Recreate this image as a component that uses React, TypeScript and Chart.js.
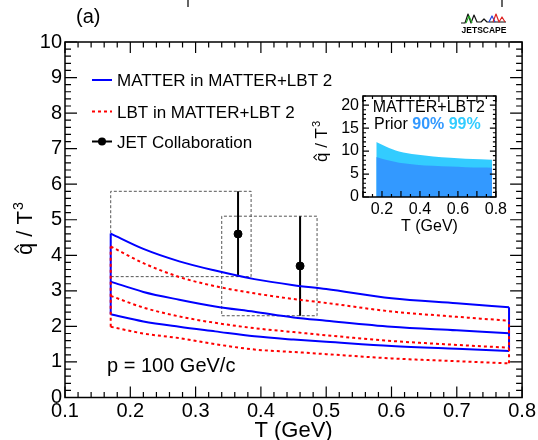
import React, { useEffect, useRef } from 'react';
import { Chart, registerables } from 'chart.js';

Chart.register(...registerables);

const FONT = "'Liberation Sans', Arial, Helvetica, sans-serif";
const f = (size: number, bold = false) => `${bold ? 'bold ' : ''}${size}px ${FONT}`;

// ---------- main panel data ----------
const tGrid = [0.17, 0.22, 0.275, 0.33, 0.39, 0.45, 0.5, 0.6, 0.7, 0.78];
const matterUpper = [4.61, 4.18, 3.83, 3.57, 3.33, 3.16, 3.05, 2.79, 2.65, 2.54];
const matterMid = [3.26, 2.97, 2.75, 2.56, 2.41, 2.25, 2.16, 1.99, 1.89, 1.81];
const matterLower = [2.34, 2.14, 1.99, 1.86, 1.72, 1.63, 1.57, 1.45, 1.37, 1.31];
const lbtUpper = [4.25, 3.78, 3.39, 3.13, 2.93, 2.77, 2.66, 2.42, 2.27, 2.16];
const lbtMid = [2.86, 2.53, 2.28, 2.1, 1.95, 1.84, 1.75, 1.59, 1.48, 1.4];
const lbtLower = [1.99, 1.8, 1.67, 1.5, 1.35, 1.28, 1.22, 1.1, 1.02, 0.96];

const jetT = [0.365, 0.46];
const jetQ = [4.6, 3.7];
const jetErr = [1.2, 1.4];
const jetTLow = [0.17, 0.34];
const jetTHigh = [0.385, 0.486];

const mainXTicks = [0.1, 0.2, 0.3, 0.4, 0.5, 0.6, 0.7, 0.8];
const mainYTicks = [0, 1, 2, 3, 4, 5, 6, 7, 8, 9, 10];

const legendLabels = ['MATTER in MATTER+LBT 2', 'LBT in MATTER+LBT 2', 'JET Collaboration'];

// ---------- inset data ----------
const insetT = [0.17, 0.22, 0.29, 0.38, 0.47, 0.56, 0.64, 0.72, 0.78];
const prior99 = [11.96, 11.0, 9.9, 9.25, 8.84, 8.55, 8.33, 8.2, 8.1];
const prior90 = [8.7, 8.1, 7.46, 7.05, 6.8, 6.62, 6.5, 6.42, 6.38];
const insetXTicks = [0.2, 0.4, 0.6, 0.8];
const insetYTicks = [0, 5, 10, 15, 20];

const BLUE = '#0000ff';
const RED = '#ff0000';
const DARK = '#3399ff';
const LIGHT = '#33ccff';

const curve = (t: number[], v: number[]) => t.map((x, i) => ({ x, y: v[i] }));
const edge = (x: number, lo: number, hi: number) => [{ x, y: lo }, { x, y: hi }];

function lineDs(data: any[], color: string, dashed: boolean, smooth = true) {
  return {
    data,
    borderColor: color,
    borderWidth: 2,
    borderDash: dashed ? [3, 3] : [],
    pointRadius: 0,
    pointHoverRadius: 0,
    fill: false,
    cubicInterpolationMode: smooth ? 'monotone' : 'default',
    tension: 0,
  };
}

function hatTitle(ctx: CanvasRenderingContext2D, x: number, y: number, size: number) {
  ctx.save();
  ctx.translate(x, y);
  ctx.rotate(-Math.PI / 2);
  ctx.fillStyle = '#000';
  ctx.strokeStyle = '#000';
  ctx.textAlign = 'left';
  ctx.textBaseline = 'alphabetic';
  ctx.font = f(size);
  const wq = ctx.measureText('q').width;
  const s = 'q / T';
  ctx.fillText(s, 0, 0);
  const w = ctx.measureText(s).width;
  const xh = size * 0.53;
  ctx.lineWidth = Math.max(1, size * 0.06);
  ctx.beginPath();
  ctx.moveTo(wq / 2 - size * 0.17, -xh - size * 0.07);
  ctx.lineTo(wq / 2, -xh - size * 0.25);
  ctx.lineTo(wq / 2 + size * 0.17, -xh - size * 0.07);
  ctx.stroke();
  ctx.font = f(size * 0.65);
  ctx.fillText('3', w + 1, -size * 0.42);
  ctx.restore();
}

function drawFrameTicks(
  chart: any,
  xMin: number, xMax: number, xMinor: number, xMajorEvery: number, xMaj: number,
  yMin: number, yMax: number, yMinor: number, yMajorEvery: number, yMaj: number,
  xMajorOffset = 0,
) {
  const ctx = chart.ctx;
  const { left, right, top, bottom } = chart.chartArea;
  const xs = chart.scales.x;
  const ys = chart.scales.y;
  ctx.save();
  ctx.strokeStyle = '#000';
  ctx.lineWidth = 1.2;
  ctx.beginPath();
  const nx = Math.round((xMax - xMin) / xMinor);
  for (let i = 0; i <= nx; i++) {
    const v = xMin + i * xMinor;
    const px = xs.getPixelForValue(v);
    const len = (i + xMajorOffset) % xMajorEvery === 0 ? xMaj : xMaj / 2;
    ctx.moveTo(px, bottom);
    ctx.lineTo(px, bottom - len);
    ctx.moveTo(px, top);
    ctx.lineTo(px, top + len);
  }
  const ny = Math.round((yMax - yMin) / yMinor);
  for (let i = 0; i <= ny; i++) {
    const v = yMin + i * yMinor;
    const py = ys.getPixelForValue(v);
    const len = i % yMajorEvery === 0 ? yMaj : yMaj / 2;
    ctx.moveTo(left, py);
    ctx.lineTo(left + len, py);
    ctx.moveTo(right, py);
    ctx.lineTo(right - len, py);
  }
  ctx.stroke();
  ctx.lineWidth = 1.5;
  ctx.strokeRect(left, top, right - left, bottom - top);
  ctx.restore();
}

const mainDecor = {
  id: 'mainDecor',
  afterDraw(chart: any) {
    const ctx = chart.ctx as CanvasRenderingContext2D;
    const { left, top, right, bottom } = chart.chartArea;
    drawFrameTicks(chart, 0.1, 0.8, 0.02, 5, 11, 0, 10, 0.2, 5, 12);

    ctx.save();
    ctx.fillStyle = '#000';
    // legend
    const lx0 = left + 27;
    const lx1 = left + 47;
    const ly = [top + 38, top + 69.5, top + 99.5];
    ctx.lineWidth = 2;
    ctx.strokeStyle = BLUE;
    ctx.setLineDash([]);
    ctx.beginPath();
    ctx.moveTo(lx0, ly[0]);
    ctx.lineTo(lx1, ly[0]);
    ctx.stroke();
    ctx.strokeStyle = RED;
    ctx.setLineDash([3, 3]);
    ctx.beginPath();
    ctx.moveTo(lx0, ly[1]);
    ctx.lineTo(lx1, ly[1]);
    ctx.stroke();
    ctx.setLineDash([]);
    ctx.strokeStyle = '#000';
    ctx.beginPath();
    ctx.moveTo(lx0, ly[2]);
    ctx.lineTo(lx1, ly[2]);
    ctx.stroke();
    ctx.beginPath();
    ctx.arc((lx0 + lx1) / 2, ly[2], 4, 0, Math.PI * 2);
    ctx.fill();
    ctx.font = f(17);
    ctx.textAlign = 'left';
    ctx.textBaseline = 'alphabetic';
    legendLabels.forEach((s, i) => ctx.fillText(s, left + 52, ly[i] + 6));

    // p label
    ctx.font = f(20);
    ctx.fillText('p = 100 GeV/c', left + 42, bottom - 25.5);

    // (a)
    ctx.fillText('(a)', left + 11, 23);

    // axis titles
    ctx.font = f(22);
    ctx.textAlign = 'center';
    ctx.fillText('T (GeV)', (left + right) / 2, 437);
    ctx.restore();

    hatTitle(ctx, 32, 255, 22);

    // logo
    ctx.save();
    ctx.lineWidth = 1.2;
    ctx.lineJoin = 'round';
    const poly = (pts: number[][], col: string) => {
      ctx.strokeStyle = col;
      ctx.beginPath();
      pts.forEach((p, i) => (i ? ctx.lineTo(p[0], p[1]) : ctx.moveTo(p[0], p[1])));
      ctx.stroke();
    };
    poly([[461, 23], [465, 23], [468, 14], [471, 23], [474, 15], [477, 22], [481, 22], [484, 19], [487, 22], [506, 22]], '#111');
    poly([[466, 23], [469, 16], [472, 23]], '#22aa22');
    poly([[489, 22], [492, 16], [495, 22]], '#2244dd');
    poly([[493, 22], [496, 14], [499, 22], [502, 17], [505, 22]], '#dd2222');
    ctx.fillStyle = '#000';
    ctx.font = f(8.5, true);
    ctx.textAlign = 'center';
    ctx.textBaseline = 'alphabetic';
    ctx.fillText('JETSCAPE', 484, 33);
    // remnants of the panel above
    ctx.strokeStyle = '#333';
    ctx.lineWidth = 1.5;
    ctx.beginPath();
    ctx.moveTo(188, 0);
    ctx.lineTo(188, 7);
    ctx.moveTo(502, 0);
    ctx.lineTo(502, 7);
    ctx.stroke();
    ctx.restore();
  },
};

const insetDecor = {
  id: 'insetDecor',
  beforeDraw(chart: any) {
    const ctx = chart.ctx;
    const { left, top, right, bottom } = chart.chartArea;
    ctx.save();
    ctx.fillStyle = '#fff';
    ctx.fillRect(left, top, right - left, bottom - top);
    ctx.restore();
  },
  afterDraw(chart: any) {
    const ctx = chart.ctx as CanvasRenderingContext2D;
    const { left, top, right } = chart.chartArea;
    drawFrameTicks(chart, 0.1, 0.8, 0.05, 2, 6, 0, 22, 1, 5, 6, 0);
    ctx.save();
    ctx.fillStyle = '#000';
    ctx.font = f(16);
    ctx.textAlign = 'left';
    ctx.textBaseline = 'alphabetic';
    ctx.fillText('MATTER+LBT2', left + 9.7, top + 16);
    let x = left + 11;
    const yb = top + 32.5;
    ctx.fillText('Prior ', x, yb);
    x += ctx.measureText('Prior ').width;
    ctx.font = f(16, true);
    ctx.fillStyle = DARK;
    ctx.fillText('90%', x, yb);
    x += ctx.measureText('90% ').width;
    ctx.fillStyle = LIGHT;
    ctx.fillText('99%', x, yb);
    ctx.fillStyle = '#000';
    ctx.font = f(16);
    ctx.textAlign = 'center';
    ctx.fillText('T (GeV)', (left + right) / 2, 151);
    ctx.restore();
    hatTitle(ctx, 27, 82, 17);
  },
};

export default function App() {
  const mainRef = useRef<HTMLCanvasElement>(null);
  const insetRef = useRef<HTMLCanvasElement>(null);

  useEffect(() => {
    Chart.defaults.font.family = FONT;
    Chart.defaults.color = '#000';

    const datasets: any[] = [
      // LBT band (drawn on top)
      lineDs(curve(tGrid, lbtUpper), RED, true),
      lineDs(curve(tGrid, lbtMid), RED, true),
      lineDs(curve(tGrid, lbtLower), RED, true),
      lineDs(edge(tGrid[0], lbtLower[0], lbtUpper[0]), RED, true, false),
      lineDs(edge(tGrid[tGrid.length - 1], lbtLower[lbtLower.length - 1], lbtUpper[lbtUpper.length - 1]), RED, true, false),
      // MATTER band
      lineDs(curve(tGrid, matterUpper), BLUE, false),
      lineDs(curve(tGrid, matterMid), BLUE, false),
      lineDs(curve(tGrid, matterLower), BLUE, false),
      lineDs(edge(tGrid[0], matterLower[0], matterUpper[0]), BLUE, false, false),
      lineDs(edge(tGrid[tGrid.length - 1], matterLower[matterLower.length - 1], matterUpper[matterUpper.length - 1]), BLUE, false, false),
    ];
    // JET points
    datasets.unshift({
      data: curve(jetT, jetQ),
      showLine: false,
      pointRadius: 4,
      pointHoverRadius: 4,
      pointBackgroundColor: '#000',
      pointBorderColor: '#000',
      borderColor: '#000',
    });
    jetT.forEach((t, i) => {
      datasets.push({
        data: edge(t, jetQ[i] - jetErr[i], jetQ[i] + jetErr[i]),
        borderColor: '#000',
        borderWidth: 2,
        pointRadius: 0,
        pointHoverRadius: 0,
        fill: false,
      });
      const lo = jetQ[i] - jetErr[i];
      const hi = jetQ[i] + jetErr[i];
      datasets.push({
        data: [
          { x: jetTLow[i], y: lo },
          { x: jetTHigh[i], y: lo },
          { x: jetTHigh[i], y: hi },
          { x: jetTLow[i], y: hi },
          { x: jetTLow[i], y: lo },
        ],
        borderColor: '#555',
        borderWidth: 1,
        borderDash: [3, 2],
        pointRadius: 0,
        pointHoverRadius: 0,
        fill: false,
      });
    });

    const main = new Chart(mainRef.current!, {
      type: 'line',
      data: { datasets },
      options: {
        responsive: false,
        animation: false,
        events: [],
        layout: { padding: { left: 0, right: 14, top: 42, bottom: 0 } },
        plugins: { legend: { display: false }, tooltip: { enabled: false } },
        scales: {
          x: {
            type: 'linear',
            min: 0.1,
            max: 0.8,
            afterFit: (s: any) => { s.height = 42.5; },
            afterBuildTicks: (s: any) => { s.ticks = mainXTicks.map((v) => ({ value: v })); },
            grid: { display: false, drawTicks: false },
            border: { display: false },
            ticks: {
              padding: 2,
              font: { size: 20 },
              color: '#000',
              maxRotation: 0,
              autoSkip: false,
              callback: (v: any) => Number(v).toFixed(1),
            },
          },
          y: {
            type: 'linear',
            min: 0,
            max: 10,
            afterFit: (s: any) => { s.width = 65; },
            afterBuildTicks: (s: any) => { s.ticks = mainYTicks.map((v) => ({ value: v })); },
            grid: { display: false, drawTicks: false },
            border: { display: false },
            ticks: {
              padding: 3,
              font: { size: 20 },
              color: '#000',
              autoSkip: false,
              callback: (v: any) => String(Math.round(Number(v))),
            },
          },
        },
      },
      plugins: [mainDecor],
    } as any);

    const inset = new Chart(insetRef.current!, {
      type: 'line',
      data: {
        datasets: [
          {
            data: curve(insetT, prior90),
            borderWidth: 0,
            borderColor: DARK,
            backgroundColor: DARK,
            fill: 'origin',
            pointRadius: 0,
            pointHoverRadius: 0,
            cubicInterpolationMode: 'monotone',
          },
          {
            data: curve(insetT, prior99),
            borderWidth: 0,
            borderColor: LIGHT,
            backgroundColor: LIGHT,
            fill: 'origin',
            pointRadius: 0,
            pointHoverRadius: 0,
            cubicInterpolationMode: 'monotone',
          },
        ],
      },
      options: {
        responsive: false,
        animation: false,
        events: [],
        layout: { padding: { left: 0, right: 13, top: 16, bottom: 0 } },
        plugins: { legend: { display: false }, tooltip: { enabled: false } },
        scales: {
          x: {
            type: 'linear',
            min: 0.1,
            max: 0.8,
            afterFit: (s: any) => { s.height = 43; },
            afterBuildTicks: (s: any) => { s.ticks = insetXTicks.map((v) => ({ value: v })); },
            grid: { display: false, drawTicks: false },
            border: { display: false },
            ticks: {
              padding: 3,
              font: { size: 16 },
              color: '#000',
              maxRotation: 0,
              autoSkip: false,
              callback: (v: any) => Number(v).toFixed(1),
            },
          },
          y: {
            type: 'linear',
            min: 0,
            max: 22,
            afterFit: (s: any) => { s.width = 63; },
            afterBuildTicks: (s: any) => { s.ticks = insetYTicks.map((v) => ({ value: v })); },
            grid: { display: false, drawTicks: false },
            border: { display: false },
            ticks: {
              padding: 4,
              font: { size: 16 },
              color: '#000',
              autoSkip: false,
              callback: (v: any) => String(Math.round(Number(v))),
            },
          },
        },
      },
      plugins: [insetDecor],
    } as any);

    return () => {
      main.destroy();
      inset.destroy();
    };
  }, []);

  return (
    <div style={{ position: 'absolute', left: 0, top: 0, width: 538, height: 440, background: '#fff' }}>
      <canvas
        ref={mainRef}
        width={538}
        height={440}
        style={{ position: 'absolute', left: 0, top: 0, width: 538, height: 440, display: 'block' }}
      />
      <canvas
        ref={insetRef}
        width={210}
        height={160}
        style={{ position: 'absolute', left: 300, top: 80, width: 210, height: 160, display: 'block' }}
      />
    </div>
  );
}
